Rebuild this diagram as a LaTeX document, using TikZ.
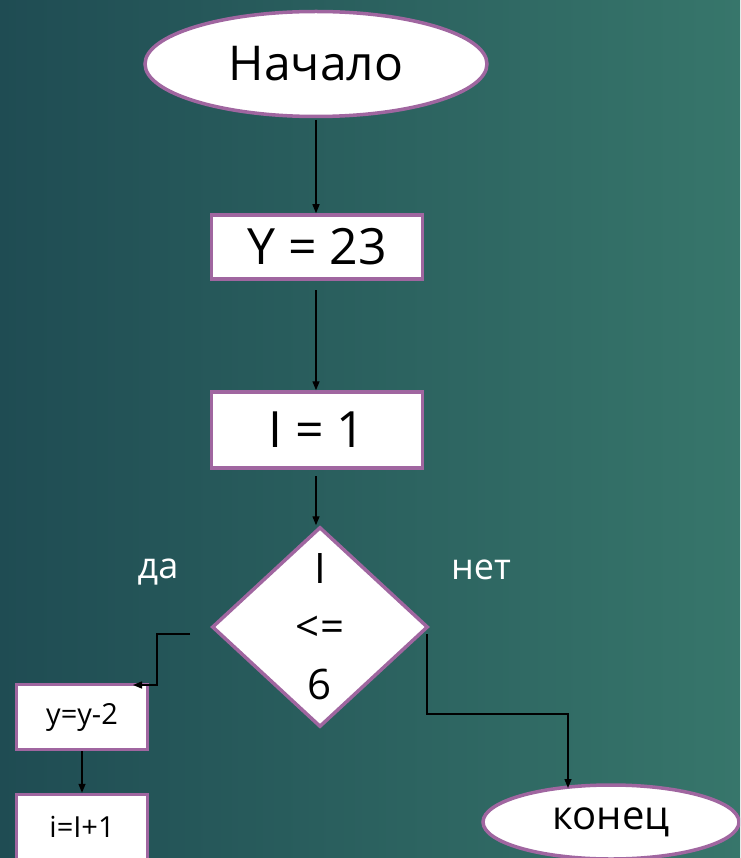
\documentclass[tikz,border=0pt]{standalone}
\usepackage{fontspec}
\setmainfont{Open Sans}
\usetikzlibrary{shapes.geometric,arrows.meta}
\definecolor{bgL}{HTML}{1F4C53}
\definecolor{bgR}{HTML}{37766B}
\definecolor{frame}{HTML}{A066A0}
\tikzset{
  base/.style={draw=frame, line width=3.5pt, fill=white, text=black, inner sep=0pt},
  term/.style={base, ellipse},
  proc/.style={base, rectangle},
  cond/.style={base, diamond, aspect=1.08},
  flow/.style={draw=black, line width=1.4pt, -{Triangle[length=9pt,width=7pt]}},
  lbl/.style={text=white, inner sep=0pt},
}
\begin{document}
\begin{tikzpicture}[x=1pt,y=-1pt]
\useasboundingbox (0,0) rectangle (740,858);
\clip (0,0) rectangle (740,858);
\shade[left color=bgL, right color=bgR] (0,0) rectangle (740,858);

\node[term, minimum width=342pt, minimum height=105pt, font=\fontsize{48}{56}\selectfont] (start) at (316,64) {Начало};
\node[proc, minimum width=211pt, minimum height=64pt, font=\fontsize{50}{56}\selectfont] (y23) at (317,247) {Y = 23};
\node[proc, minimum width=211pt, minimum height=76pt, font=\fontsize{50}{56}\selectfont] (i1) at (317,430) {I = 1};
\node[cond, minimum width=216pt, minimum height=200pt, align=center, font=\fontsize{42}{58}\selectfont] (cmp) at (320,627) {I\\<=\\6};
\node[proc, minimum width=131pt, minimum height=65pt, font=\fontsize{29}{34}\selectfont] (ydec) at (82,717) {y=y-2};
\node[proc, minimum width=131pt, minimum height=65pt, font=\fontsize{29}{34}\selectfont] (iinc) at (82,827) {i=I+1};
\node[term, minimum width=256pt, minimum height=74pt, font=\fontsize{40}{46}\selectfont] (stop) at (611,822) {конец};

\node[lbl, font=\fontsize{36}{42}\selectfont] (yes) at (158,572) {да};
\node[lbl, font=\fontsize{36}{42}\selectfont] (no) at (481,570) {нет};

\coordinate (a1) at (316,120);
\coordinate (a2) at (316,290);
\coordinate (a3) at (316,476);
\coordinate (lS) at (190,634);
\coordinate (lE) at (133,685);
\coordinate (rS) at (427,634);
\coordinate (rE) at (568,788);

\draw[flow] (a1) -- (y23.north -| a1);
\draw[flow] (a2) -- (i1.north -| a2);
\draw[flow] (a3) -- (cmp.north -| a3);
\draw[flow] (lS) -- (157,634) -- (157,685) -- (lE);
\draw[flow] (ydec.south) -- (iinc.north);
\draw[flow] (rS) -- (427,714) -- (568,714) -- (rE);
\end{tikzpicture}
\end{document}
